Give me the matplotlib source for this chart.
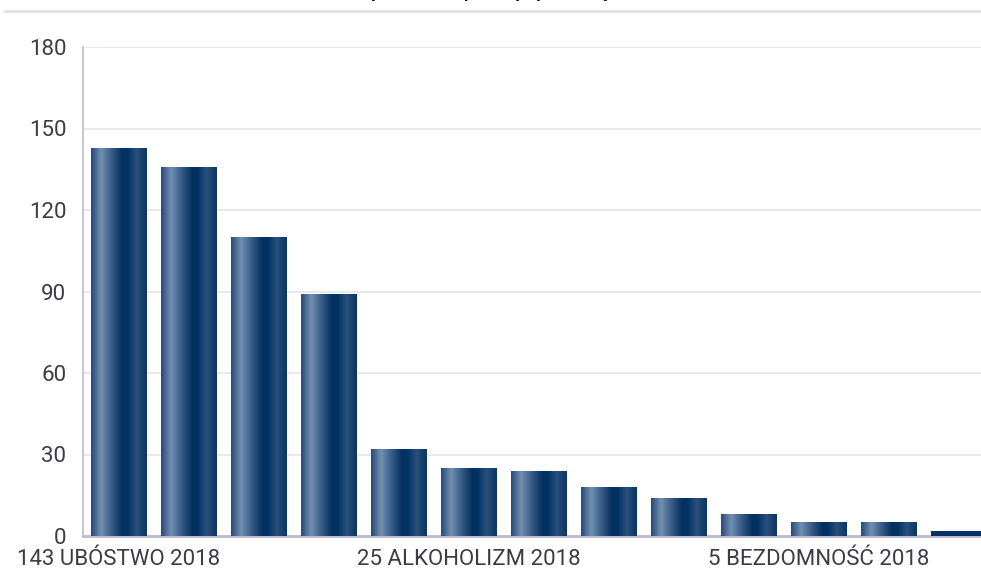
import numpy as np
import matplotlib
matplotlib.use("Agg")
import matplotlib.pyplot as plt
from matplotlib.colors import LinearSegmentedColormap
from matplotlib.lines import Line2D

plt.rcParams['font.family'] = ['Roboto', 'DejaVu Sans']

title = "Powody udzielenia pomocy społecznej"
categories = [
    "UBÓSTWO", "BEZROBOCIE", "DŁUGOTRWAŁA CHOROBA", "NIEPEŁNOSPRAWNOŚĆ",
    "BEZRADNOŚĆ", "ALKOHOLIZM", "WIELODZIETNOŚĆ", "OCHRONA MACIERZYŃSTWA",
    "PRZEMOC W RODZINIE", "ZDARZENIE LOSOWE", "BEZDOMNOŚĆ", "NARKOMANIA", "SIEROCTWO",
]
values = [143, 136, 110, 89, 32, 25, 24, 18, 14, 8, 5, 5, 2]
year = 2018
label_every = 5
yticks = [0, 30, 60, 90, 120, 150, 180]

# horizontal shading of each bar (left -> right)
bar_cmap = LinearSegmentedColormap.from_list("bar", [
    (0.00, "#25497a"), (0.18, "#7390b0"), (0.36, "#3a5e89"),
    (0.56, "#04305f"), (0.66, "#023366"), (0.82, "#2a507c"),
    (0.92, "#17406f"), (1.00, "#0b3563"),
])
highlight_color = "#063366"

fig = plt.figure(figsize=(9.81, 5.70), dpi=100)
ax = fig.add_axes([83 / 981, 1 - 536 / 570, 1 - 83 / 981, (536 - 47) / 570])

x = np.arange(len(values))
width = 0.786
bars = ax.bar(x, values, width=width, color="none", edgecolor="none", zorder=3)
grad = np.linspace(0, 1, 256).reshape(1, -1)
for i, b in enumerate(bars):
    x0 = b.get_x()
    if i == len(values) - 1:
        b.set_facecolor(highlight_color)
        continue
    im = ax.imshow(grad, cmap=bar_cmap, aspect="auto", zorder=3,
                   extent=(x0, x0 + width, 0, b.get_height()), origin="lower")
    im.set_clip_path(b)

ax.set_xlim(-0.507, 12.32)
ax.set_ylim(0, 180)
ax.set_yticks(yticks)
ax.set_yticklabels([str(t) for t in yticks])
ax.set_xticks(x[::label_every])
ax.set_xticklabels([f"{values[i]} {categories[i]} {year}" for i in x[::label_every]])

ax.grid(axis="y", color="#e6e6ee", linewidth=1.3, zorder=0)
ax.set_axisbelow(True)
for s in ["top", "right"]:
    ax.spines[s].set_visible(False)
ax.spines["left"].set_color("#c8c8dc")
ax.spines["left"].set_linewidth(1.5)
ax.spines["bottom"].set_color("#bcbcd0")
ax.spines["bottom"].set_linewidth(2)
ax.tick_params(axis="both", length=0, labelsize=16, labelcolor="#3c3c46")
ax.tick_params(axis="y", pad=12)
ax.tick_params(axis="x", pad=9.5)

# top separator and clipped title
fig.add_artist(Line2D([5 / 981, 1], [1 - 11 / 570] * 2, color="#e2e2e8", linewidth=2))
fig.text(465 / 981, 1 + 2 / 570, title, ha="center", va="baseline",
         fontsize=12, fontweight="bold", color="black")

fig.savefig("out.png", dpi=100)
